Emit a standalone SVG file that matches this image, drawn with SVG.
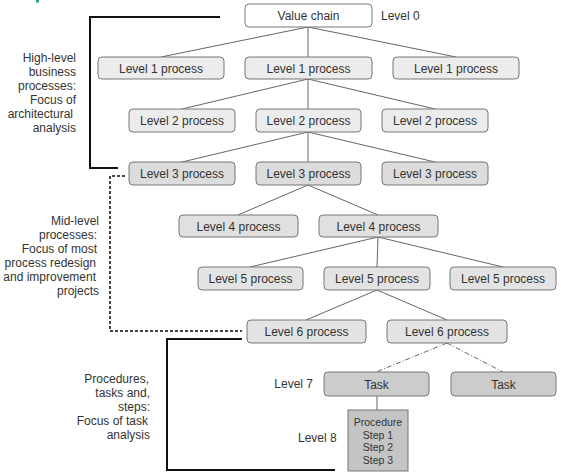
<svg xmlns="http://www.w3.org/2000/svg" width="561" height="476" viewBox="0 0 561 476">
<style>
text{font-family:"Liberation Sans",Arial,sans-serif;font-size:12px;fill:#333}
.c{text-anchor:middle}
.e{text-anchor:end}
.n rect{stroke:#777;stroke-width:1}
.w{fill:#fff}
.l1{fill:#ececec}
.l3{fill:#dcdcdc}
.l4{fill:#e0e0e0}
.l5{fill:#e3e3e3}
.t{fill:#cccccc}
.p{fill:#c4c4c4}
.ln line{stroke:#666;stroke-width:1}
.dd{stroke-dasharray:5,2,1,2}
.br{fill:none;stroke:#111;stroke-width:2}
.bd{fill:none;stroke:#444;stroke-width:2;stroke-dasharray:3,2}
.sm{font-size:10.5px}
</style>
<rect x="36" y="0" width="3" height="2.5" fill="#2aa58a"/>
<g id="connectors" class="ln">
<line x1="308" y1="27" x2="161" y2="57"/>
<line x1="308" y1="27" x2="308" y2="57"/>
<line x1="308" y1="27" x2="456" y2="57"/>
<line x1="308" y1="79" x2="182" y2="109"/>
<line x1="308" y1="79" x2="308" y2="109"/>
<line x1="308" y1="79" x2="435" y2="109"/>
<line x1="308" y1="132" x2="182" y2="162"/>
<line x1="308" y1="132" x2="308" y2="162"/>
<line x1="308" y1="132" x2="435" y2="162"/>
<line x1="308" y1="185" x2="238" y2="215"/>
<line x1="308" y1="185" x2="378" y2="215"/>
<line x1="378" y1="237" x2="250" y2="267"/>
<line x1="378" y1="237" x2="377" y2="267"/>
<line x1="378" y1="237" x2="503" y2="267"/>
<line x1="377" y1="290" x2="306" y2="320"/>
<line x1="377" y1="290" x2="447" y2="320"/>
<line class="dd" x1="447" y1="343" x2="376" y2="372"/>
<line class="dd" x1="447" y1="343" x2="503" y2="372"/>
<line x1="377" y1="396" x2="377" y2="410"/>
</g>
<g id="brackets">
<polyline class="br" points="220,17 90,17 90,168 118,168"/>
<polyline class="bd" points="125,176 110,176 110,331 242,331"/>
<polyline class="br" points="242,339 167,339 167,470 335,470"/>
</g>
<g id="n0" class="n"><rect class="w" x="245" y="4" width="127" height="23" rx="4"/><text class="c" x="308.5" y="20">Value chain</text></g>
<text x="381" y="20">Level 0</text>
<g id="n1a" class="n"><rect class="l1" x="98" y="57" width="126" height="22" rx="4"/><text class="c" x="161" y="72.5">Level 1 process</text></g>
<g id="n1b" class="n"><rect class="l1" x="245" y="57" width="127" height="22" rx="4"/><text class="c" x="308.5" y="72.5">Level 1 process</text></g>
<g id="n1c" class="n"><rect class="l1" x="393" y="57" width="126" height="22" rx="4"/><text class="c" x="456" y="72.5">Level 1 process</text></g>
<g id="n2a" class="n"><rect class="l1" x="129" y="109" width="106" height="23" rx="4"/><text class="c" x="182" y="125">Level 2 process</text></g>
<g id="n2b" class="n"><rect class="l1" x="256" y="109" width="105" height="23" rx="4"/><text class="c" x="308.5" y="125">Level 2 process</text></g>
<g id="n2c" class="n"><rect class="l1" x="382" y="109" width="106" height="23" rx="4"/><text class="c" x="435" y="125">Level 2 process</text></g>
<g id="n3a" class="n"><rect class="l3" x="129" y="162" width="106" height="23" rx="4"/><text class="c" x="182" y="178">Level 3 process</text></g>
<g id="n3b" class="n"><rect class="l3" x="256" y="162" width="105" height="23" rx="4"/><text class="c" x="308.5" y="178">Level 3 process</text></g>
<g id="n3c" class="n"><rect class="l3" x="382" y="162" width="106" height="23" rx="4"/><text class="c" x="435" y="178">Level 3 process</text></g>
<g id="n4a" class="n"><rect class="l4" x="179" y="215" width="119" height="22" rx="4"/><text class="c" x="238.5" y="230.5">Level 4 process</text></g>
<g id="n4b" class="n"><rect class="l4" x="319" y="215" width="119" height="22" rx="4"/><text class="c" x="378.5" y="230.5">Level 4 process</text></g>
<g id="n5a" class="n"><rect class="l5" x="198" y="267" width="105" height="23" rx="4"/><text class="c" x="250.5" y="283">Level 5 process</text></g>
<g id="n5b" class="n"><rect class="l5" x="324" y="267" width="106" height="23" rx="4"/><text class="c" x="377" y="283">Level 5 process</text></g>
<g id="n5c" class="n"><rect class="l5" x="450" y="267" width="106" height="23" rx="4"/><text class="c" x="503" y="283">Level 5 process</text></g>
<g id="n6a" class="n"><rect class="l5" x="247" y="320" width="119" height="23" rx="4"/><text class="c" x="306.5" y="336">Level 6 process</text></g>
<g id="n6b" class="n"><rect class="l5" x="387" y="320" width="120" height="23" rx="4"/><text class="c" x="447" y="336">Level 6 process</text></g>
<text class="e" x="313" y="388">Level 7</text>
<g id="t1" class="n"><rect class="t" x="324" y="372" width="105" height="24" rx="4"/><text class="c" x="376.5" y="388.5">Task</text></g>
<g id="t2" class="n"><rect class="t" x="451" y="372" width="105" height="24" rx="4"/><text class="c" x="503.5" y="388.5">Task</text></g>
<text x="298" y="442">Level 8</text>
<g id="proc" class="n"><rect class="p" x="348" y="410" width="60" height="61"/>
<text class="c sm" x="378" y="425.5">Procedure</text>
<text class="c sm" x="378" y="438.5">Step 1</text>
<text class="c sm" x="378" y="451">Step 2</text>
<text class="c sm" x="378" y="464">Step 3</text></g>
<g id="label-high">
<text class="e" x="76" y="61.5">High-level</text>
<text class="e" x="76" y="75.5">business</text>
<text class="e" x="76" y="90">processes:</text>
<text class="e" x="76" y="103.5">Focus of</text>
<text class="e" x="73" y="118">architectural</text>
<text class="e" x="76" y="132">analysis</text>
</g>
<g id="label-mid">
<text class="e" x="99" y="224.5">Mid-level</text>
<text class="e" x="97" y="238.5">processes:</text>
<text class="e" x="97" y="252.5">Focus of most</text>
<text class="e" x="96" y="267">process redesign</text>
<text class="e" x="96" y="281">and improvement</text>
<text class="e" x="99" y="295">projects</text>
</g>
<g id="label-low">
<text class="e" x="149" y="382.5">Procedures,</text>
<text class="e" x="150" y="396.5">tasks and,</text>
<text class="e" x="150" y="411">steps:</text>
<text class="e" x="148" y="424.5">Focus of task</text>
<text class="e" x="150" y="439">analysis</text>
</g>
</svg>
